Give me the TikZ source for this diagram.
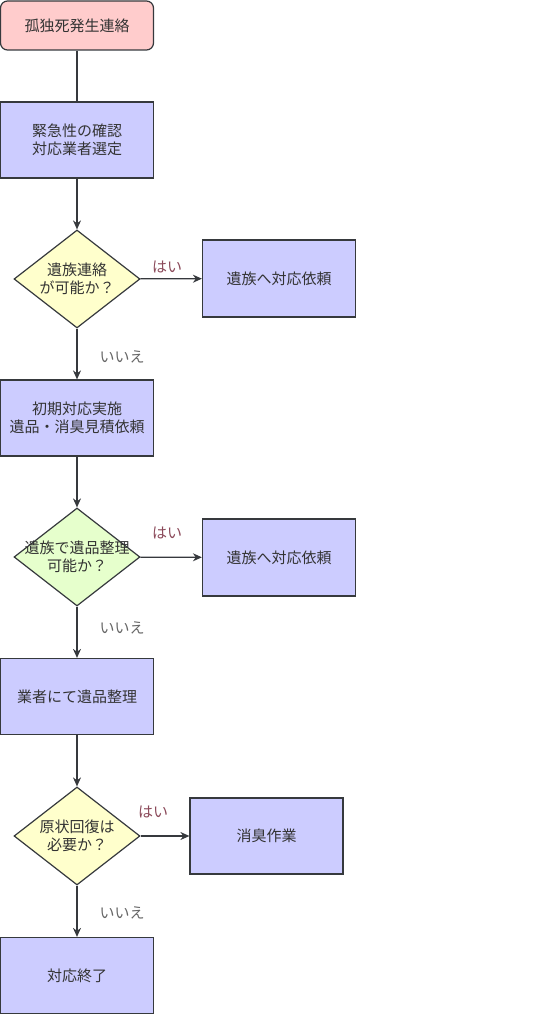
\documentclass[tikz,border=0pt]{standalone}
\usepackage{fontspec}
\newfontfamily\jpfont{Noto Sans CJK JP}
\usetikzlibrary{arrows.meta, shapes.geometric, positioning}
\definecolor{edgegray}{HTML}{36393D}
\definecolor{txtgray}{HTML}{333333}
\definecolor{boxblue}{HTML}{CCCCFF}
\definecolor{startpink}{HTML}{FFCCCC}
\definecolor{askyellow}{HTML}{FFFFCC}
\definecolor{askgreen}{HTML}{E6FFCC}
\definecolor{yescol}{HTML}{8B4A5A}
\definecolor{nogray}{HTML}{666666}
\begin{document}
\begin{tikzpicture}[x=1pt,y=-1pt,
 every node/.style={font=\jpfont\fontsize{15}{18}\selectfont,text=txtgray},
 item/.style={draw=edgegray,line width=1.2pt,fill=boxblue,minimum width=153pt,minimum height=76pt,align=center,inner sep=0pt},
 startitem/.style={item,fill=startpink,rounded corners=7pt,minimum height=49pt},
 ask/.style={diamond,draw=edgegray,line width=1.2pt,fill=askyellow,minimum width=126pt,minimum height=98pt,inner sep=0pt},
 flow/.style={draw=edgegray,line width=1.2pt,-{Stealth[length=9pt,width=8pt]}},
 yes/.style={text=yescol},no/.style={text=nogray}]
 \useasboundingbox (0,0) rectangle (540,1014);
 % main column
 \node[startitem] (start) at (77,25.5) {孤独死発生連絡};
 \node[item] (b1) at (77,140) {緊急性の確認\\対応業者選定};
 \node[ask,label={[align=center]center:{遺族連絡\\が可能か？}}] (d1) at (77,279) {};
 \node[item] (b2) at (77,418) {初期対応実施\\遺品・消臭見積依頼};
 \node[ask,fill=askgreen,label={[align=center]center:{遺族で遺品整理\\可能か？}}] (d2) at (77,557) {};
 \node[item] (b3) at (77,696.5) {業者にて遺品整理};
 \node[ask,label={[align=center]center:{原状回復は\\必要か？}}] (d3) at (77,836) {};
 \node[item] (b4) at (77,975.5) {対応終了};
 % side boxes
 \node[item,minimum height=77pt] (s1) at (279,278.5) {遺族へ対応依頼};
 \node[item,minimum height=77pt] (s2) at (279,557.5) {遺族へ対応依頼};
 \node[item] (s3) at (266.5,836) {消臭作業};
 % connectors
 \draw[edgegray,line width=1.2pt] (start) -- (b1);
 \foreach \a/\b in {b1/d1,d1/b2,b2/d2,d2/b3,b3/d3,d3/b4,d1/s1,d2/s2,d3/s3}
  \draw[flow] (\a) -- (\b);
 % labels
 \node[yes] (yes1) at (167,267) {はい};
 \node[yes] (yes2) at (167,533) {はい};
 \node[yes] (yes3) at (153,812) {はい};
 \node[no] (no1) at (122,357) {いいえ};
 \node[no] (no2) at (122,628) {いいえ};
 \node[no] (no3) at (122,913) {いいえ};
\end{tikzpicture}
\end{document}
